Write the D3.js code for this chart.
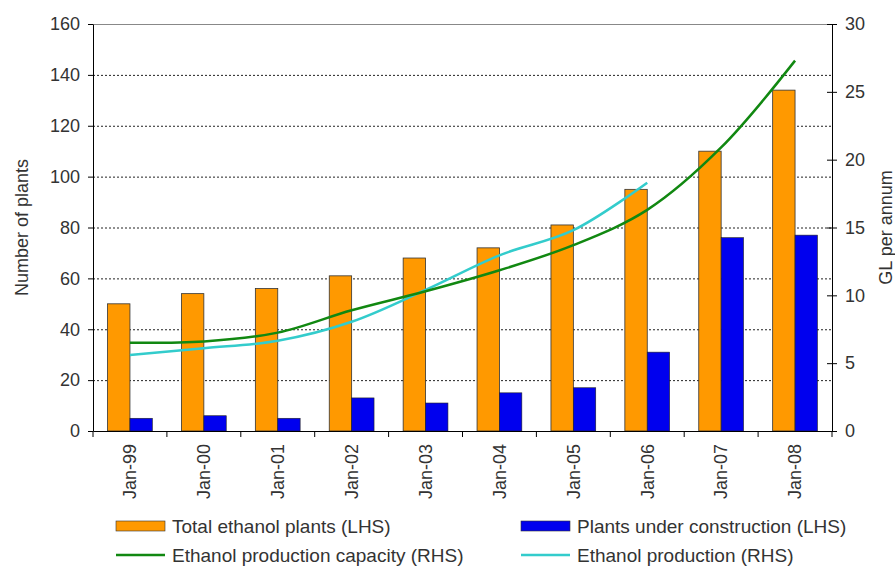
<!DOCTYPE html>
<html>
<head>
<meta charset="utf-8">
<script src="https://cdn.jsdelivr.net/npm/d3@7"></script>
<style>
	body { margin: 0; background: #fff; }
	text { font-family: Arial, 'Liberation Sans', sans-serif; fill: #333; }
	.axis text { font-size: 18px; }
	.axis path, .axis line { stroke: #000; }
</style>
</head>
<body>
<div id="chart"><svg width="895" height="569"></svg></div>
<script>
// data
const categories = ['Jan-99', 'Jan-00', 'Jan-01', 'Jan-02', 'Jan-03', 'Jan-04', 'Jan-05', 'Jan-06', 'Jan-07', 'Jan-08'];
const totalPlants = [50, 54, 56, 61, 68, 72, 81, 95, 110, 134];
const underConstruction = [5, 6, 5, 13, 11, 15, 17, 31, 76, 77];
const capacity = [6.5, 6.6, 7.25, 8.9, 10.3, 11.85, 13.7, 16.3, 20.9, 27.3];
const production = [5.6, 6.1, 6.65, 8.05, 10.4, 12.95, 14.8, 18.3];
const leftTicks = [0, 20, 40, 60, 80, 100, 120, 140, 160];
const rightTicks = [0, 5, 10, 15, 20, 25, 30];

/**********************
***** BASIC SETUP *****
**********************/
const svg = d3.select('#chart').select('svg');
const margin = { top: 24, left: 93, right: 63, bottom: 138 };
const width = 895, height = 569;
const plotRight = width - margin.right;
const plotBottom = height - margin.bottom;

/***********************
***** X & Y SCALES *****
***********************/
const xScale = d3.scaleBand().domain(categories).range([margin.left, plotRight]);
const subScale = d3.scaleBand().domain(['total', 'constr']).range([0, xScale.bandwidth()]).paddingOuter(0.65);
const yLeft = d3.scaleLinear().domain([0, 160]).range([plotBottom, margin.top]);
const yRight = d3.scaleLinear().domain([0, 30]).range([plotBottom, margin.top]);

/* GRIDLINES */
svg.append('g')
	.selectAll('line')
	.data(leftTicks.slice(1))
	.enter()
	.append('line')
	.attr('x1', margin.left)
	.attr('x2', plotRight)
	.attr('y1', (d) => yLeft(d) + 0.5)
	.attr('y2', (d) => yLeft(d) + 0.5)
	.attr('stroke', (d) => (d === 160 ? '#888' : '#222'))
	.attr('stroke-dasharray', (d) => (d === 160 ? null : '2,2'));

/****************
***** BARS *****
*****************/
const plot = svg.append('g');
plot.selectAll('.total')
	.data(totalPlants)
	.enter()
	.append('rect')
	.attr('x', (d, i) => xScale(categories[i]) + subScale('total'))
	.attr('y', (d) => yLeft(d))
	.attr('width', subScale.bandwidth())
	.attr('height', (d) => yLeft(0) - yLeft(d))
	.attr('fill', '#ff9900')
	.attr('stroke', '#333')
	.attr('stroke-width', 0.8);

plot.selectAll('.constr')
	.data(underConstruction)
	.enter()
	.append('rect')
	.attr('x', (d, i) => xScale(categories[i]) + subScale('constr'))
	.attr('y', (d) => yLeft(d))
	.attr('width', subScale.bandwidth())
	.attr('height', (d) => yLeft(0) - yLeft(d))
	.attr('fill', '#0000ee')
	.attr('stroke', '#222')
	.attr('stroke-width', 0.6);

/**********************
***** LINES *****
**********************/
const lineGen = d3.line()
	.x((d, i) => xScale(categories[i]) + xScale.bandwidth() / 2)
	.y((d) => yRight(d))
	.curve(d3.curveCatmullRom);

svg.append('path')
	.attr('d', lineGen(production))
	.attr('fill', 'none')
	.attr('stroke', '#33cccc')
	.attr('stroke-width', 2.5);

svg.append('path')
	.attr('d', lineGen(capacity))
	.attr('fill', 'none')
	.attr('stroke', '#118811')
	.attr('stroke-width', 2.5);

/***************************************
***** AXES *****
***************************************/
svg.append('g')
	.attr('class', 'axis')
	.attr('transform', `translate(${margin.left},0)`)
	.call(d3.axisLeft(yLeft).tickValues(leftTicks).tickSize(5).tickSizeOuter(0).tickPadding(8));

const rightAxis = svg.append('g')
	.attr('class', 'axis')
	.attr('transform', `translate(${plotRight},0)`)
	.call(d3.axisRight(yRight).tickValues(rightTicks).tickSize(5).tickSizeOuter(0).tickPadding(8));
rightAxis.selectAll('.tick line').attr('x1', -5);

const xAxis = svg.append('g')
	.attr('class', 'axis')
	.attr('transform', `translate(0,${plotBottom})`)
	.call(d3.axisBottom(xScale).tickSize(0).tickSizeOuter(0));
xAxis.selectAll('.tick text')
	.attr('transform', 'rotate(-90)')
	.attr('x', -13)
	.attr('y', 0)
	.attr('dy', '0.35em')
	.attr('text-anchor', 'end');

// tick marks sit between categories
xAxis.selectAll('.boundary')
	.data(categories.concat(['end']))
	.enter()
	.append('line')
	.attr('x1', (d) => (d === 'end' ? plotRight : xScale(d)))
	.attr('x2', (d) => (d === 'end' ? plotRight : xScale(d)))
	.attr('y1', 0)
	.attr('y2', 6);

/* AXIS LABELS */
svg.append('text')
	.attr('transform', `translate(22, ${(margin.top + plotBottom) / 2}) rotate(-90)`)
	.attr('text-anchor', 'middle')
	.attr('dy', '0.35em')
	.style('font-size', '18px')
	.text('Number of plants');

svg.append('text')
	.attr('transform', `translate(886, ${(margin.top + plotBottom) / 2}) rotate(-90)`)
	.attr('text-anchor', 'middle')
	.attr('dy', '0.35em')
	.style('font-size', '18px')
	.text('GL per annum');

/*************************
***** LEGEND *****
*************************/
const legendItems = [
	{ label: 'Total ethanol plants (LHS)', type: 'bar', color: '#ff9900', x: 116, y: 526 },
	{ label: 'Plants under construction (LHS)', type: 'bar', color: '#0000ee', x: 521, y: 526 },
	{ label: 'Ethanol production capacity (RHS)', type: 'line', color: '#118811', x: 116, y: 555 },
	{ label: 'Ethanol production (RHS)', type: 'line', color: '#33cccc', x: 521, y: 555 }
];
const legend = svg.append('g');
legendItems.forEach(function(d) {
	if (d.type === 'bar') {
		legend.append('rect')
			.attr('x', d.x).attr('y', d.y - 5)
			.attr('width', 49).attr('height', 10)
			.attr('fill', d.color)
			.attr('stroke', '#333').attr('stroke-width', 0.6);
	} else {
		legend.append('line')
			.attr('x1', d.x).attr('x2', d.x + 49)
			.attr('y1', d.y).attr('y2', d.y)
			.attr('stroke', d.color).attr('stroke-width', 2.5);
	}
	legend.append('text')
		.attr('x', d.x + 56)
		.attr('y', d.y)
		.attr('dy', '0.35em')
		.style('font-size', '19px')
		.text(d.label);
});
</script>
</body>
</html>
